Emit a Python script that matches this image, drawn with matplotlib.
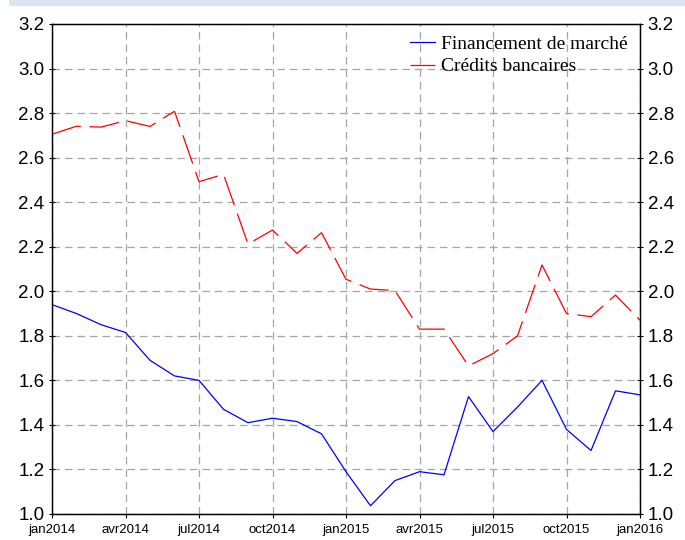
import numpy as np
import matplotlib.pyplot as plt
from matplotlib.patches import Rectangle

# monthly observations, jan2014 -> jan2016
months = np.arange(25)
quarter_ticks = [0, 3, 6, 9, 12, 15, 18, 21, 24]
quarter_labels = ['jan2014', 'avr2014', 'jul2014', 'oct2014', 'jan2015',
                  'avr2015', 'jul2015', 'oct2015', 'jan2016']

financement = [1.94, 1.90, 1.85, 1.815, 1.69, 1.62, 1.60, 1.47, 1.41, 1.43,
               1.415, 1.36, 1.19, 1.037, 1.15, 1.19, 1.176, 1.527, 1.37, 1.48,
               1.60, 1.38, 1.285, 1.553, 1.535]
credits = [2.705, 2.741, 2.737, 2.766, 2.74, 2.808, 2.492, 2.525, 2.212, 2.275,
           2.17, 2.263, 2.054, 2.01, 2.003, 1.83, 1.83, 1.665, 1.72, 1.80,
           2.118, 1.90, 1.886, 1.983, 1.87]

y_ticks = [1.0, 1.2, 1.4, 1.6, 1.8, 2.0, 2.2, 2.4, 2.6, 2.8, 3.0, 3.2]

fig = plt.figure(figsize=(6.85, 5.4), dpi=100)
fig.patches.append(Rectangle((9 / 685, 1 - 5 / 540), 1, 5 / 540,
                             transform=fig.transFigure, color='#dce6f2', zorder=0))
ax = fig.add_axes([52 / 685, 26 / 540, 588 / 685, 490 / 540])

ax.plot(months, financement, color='#0000ff', linewidth=0.9, label='Financement de marché')
ax.plot(months, credits, color='#ff0000', linewidth=0.9, dashes=(24, 7),
        label='Crédits bancaires')

ax.set_xlim(0, 24)
ax.set_ylim(1.0, 3.2)
ax.set_xticks(quarter_ticks)
ax.set_xticklabels(quarter_labels, fontsize=9.5, family='Liberation Sans')
ax.set_yticks(y_ticks)
ax.set_yticklabels([f'{v:.1f}' for v in y_ticks], fontsize=13.5, family='Liberation Sans')
ax.tick_params(axis='x', direction='out', length=3, pad=4)
ax.tick_params(axis='y', direction='inout', length=5, pad=3)

ax.grid(True, color='#a6a6a6', linestyle=(0, (6, 4)), linewidth=0.9)
for s in ax.spines.values():
    s.set_linewidth(0.9)

ax2 = ax.twinx()
ax2.set_ylim(1.0, 3.2)
ax2.set_yticks(y_ticks)
ax2.set_yticklabels([f'{v:.1f}' for v in y_ticks], fontsize=13.5, family='Liberation Sans')
ax2.tick_params(axis='y', direction='inout', length=5, pad=3)
for s in ax2.spines.values():
    s.set_linewidth(0.9)

leg = ax.legend(loc='upper right', bbox_to_anchor=(0.985, 0.985), frameon=False,
                prop={'family': 'Liberation Serif', 'size': 14},
                handlelength=1.3, handletextpad=0.3, labelspacing=0.25,
                borderaxespad=0.0, borderpad=0.2)

fig.savefig('out.png', dpi=100)
